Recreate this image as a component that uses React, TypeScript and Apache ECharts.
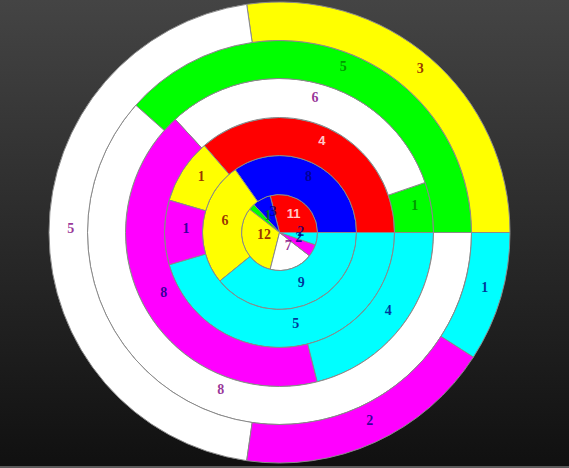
import React, { useEffect, useRef } from "react"
import * as echarts from "echarts"

// values per ring, from the centre out, counter-clockwise from 3 o'clock
const ring1Values = [11, 3, 1, 12, 7, 2, 2]
const ring1Colors = ["red", "blue", "green", "yellow", "white", "magenta", "cyan"]

const ring2Values = [8, 6, 9]
const ring2Colors = ["blue", "yellow", "cyan"]

const ring3Values = [4, 1, 1, 5]
const ring3Colors = ["red", "yellow", "magenta", "cyan"]

const ring4Values = [1, 6, 8, 4]
const ring4Colors = ["green", "white", "magenta", "cyan"]

const ring5Values = [5, 8]
const ring5Colors = ["green", "white"]

const ring6Values = [3, 5, 2, 1]
const ring6Colors = ["yellow", "white", "magenta", "cyan"]

const fill: Record<string, string> = {
  red: "#ff0000",
  blue: "#0000ff",
  green: "#00ff00",
  yellow: "#ffff00",
  white: "#ffffff",
  magenta: "#ff00ff",
  cyan: "#00ffff",
}

const labelColor: Record<string, string> = {
  red: "#ffffff",
  blue: "#000080",
  green: "#008000",
  yellow: "#800000",
  white: "#800080",
  magenta: "#000080",
  cyan: "#000080",
}

const CENTER = [279.5, 232.5]
const OUTER = 230.5

const rings = [
  { values: ring1Values, colors: ring1Colors, radius: [0, 38] },
  { values: ring2Values, colors: ring2Colors, radius: [38, 77] },
  { values: ring3Values, colors: ring3Colors, radius: [77, 115] },
  { values: ring4Values, colors: ring4Colors, radius: [115, 154] },
  { values: ring5Values, colors: ring5Colors, radius: [154, 192] },
  { values: ring6Values, colors: ring6Colors, radius: [192, OUTER] },
]

const labelStyle = (c: string) => ({
  color: labelColor[c],
  fontSize: c === "red" ? 13 : 14,
  fontWeight: "bold",
  fontFamily: c === "red" ? "Liberation Sans" : "Liberation Serif",
})

const App: React.FC = () => {
  const chartRef = useRef<HTMLDivElement>(null)

  useEffect(() => {
    if (!chartRef.current) return
    const chart = echarts.init(chartRef.current, null, { renderer: "svg" })

    const pies = rings.map((ring, i) => ({
      name: "ring" + (i + 1),
      type: "pie",
      center: CENTER,
      radius: ring.radius,
      startAngle: 0,
      clockwise: false,
      silent: true,
      itemStyle: {
        borderColor: "#8a8a8a",
        borderWidth: 1,
      },
      label: { show: false },
      labelLine: { show: false },
      data: ring.values.map((v, j) => ({
        value: v,
        itemStyle: { color: fill[ring.colors[j]] },
      })),
    }))

    // slice labels, placed on a polar system laid over the pies
    // (angle = share of the ring's total, radius = middle of the ring)
    const labels: any[] = []
    rings.forEach((ring) => {
      const total = ring.values.reduce((a, b) => a + b, 0)
      const rMid = (ring.radius[0] + ring.radius[1]) / 2
      let acc = 0
      ring.values.forEach((v, j) => {
        const mid = (acc + v / 2) / total
        acc += v
        labels.push({
          value: [rMid, mid],
          label: { formatter: String(v), ...labelStyle(ring.colors[j]) },
        })
      })
    })

    chart.setOption({
      animation: false,
      backgroundColor: {
        type: "linear",
        x: 0,
        y: 0,
        x2: 0,
        y2: 1,
        colorStops: [
          { offset: 0, color: "#444444" },
          { offset: 1, color: "#101010" },
        ],
      },
      polar: { center: CENTER, radius: OUTER },
      angleAxis: {
        type: "value",
        min: 0,
        max: 1,
        startAngle: 0,
        clockwise: false,
        show: false,
      },
      radiusAxis: {
        type: "value",
        min: 0,
        max: OUTER,
        show: false,
      },
      graphic: [
        {
          type: "rect",
          left: 0,
          bottom: 0,
          shape: { width: 569, height: 2 },
          style: { fill: "#5a5a5a" },
          silent: true,
        },
      ],
      series: [
        ...pies,
        {
          name: "labels",
          type: "scatter",
          coordinateSystem: "polar",
          symbolSize: 0,
          silent: true,
          z: 10,
          label: { show: true, position: "inside", offset: [2.5, -4.5] },
          data: labels,
        },
      ],
    })

    return () => {
      chart.dispose()
    }
  }, [])

  return (
    <div
      ref={chartRef}
      style={{
        position: "absolute",
        left: 0,
        top: 0,
        width: "569px",
        height: "468px",
      }}
    />
  )
}

export default App
